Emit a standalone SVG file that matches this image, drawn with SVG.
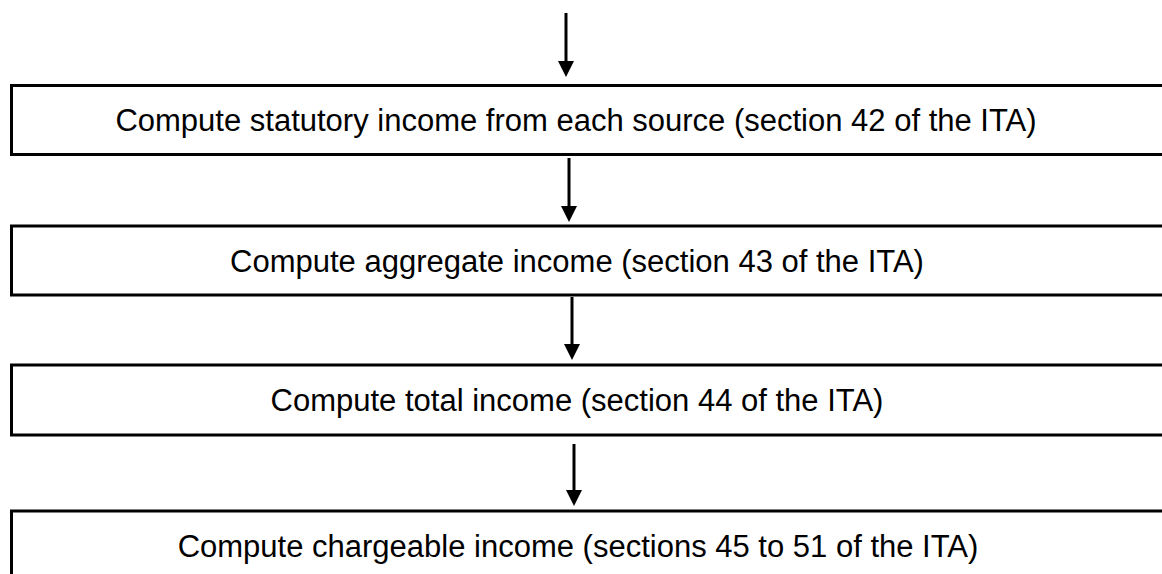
<svg xmlns="http://www.w3.org/2000/svg" width="1162" height="574" viewBox="0 0 1162 574">
<defs>
<style>
.box{fill:#fff;stroke:#000;stroke-width:3}
.lbl{font-family:"Liberation Sans",Arial,sans-serif;font-size:31px;fill:#000;text-anchor:middle}
.conn{stroke:#000;stroke-width:3;fill:none}
.head{fill:#000}
</style>
</defs>
<rect width="1162" height="574" fill="#fff"/>
<g id="connectors">
<line class="conn" x1="566" y1="13" x2="566" y2="62"/>
<polygon class="head" points="558,61 574,61 566,77"/>
<line class="conn" x1="569" y1="158" x2="569" y2="207"/>
<polygon class="head" points="561,206 577,206 569,222"/>
<line class="conn" x1="572" y1="297" x2="572" y2="345"/>
<polygon class="head" points="564,344 580,344 572,360"/>
<line class="conn" x1="574" y1="444" x2="574" y2="491"/>
<polygon class="head" points="566,490 582,490 574,506"/>
</g>
<g id="node1">
<rect class="box" x="11.5" y="85.5" width="1170" height="69"/>
<text class="lbl" x="576" y="131">Compute statutory income from each source (section 42 of the ITA)</text>
</g>
<g id="node2">
<rect class="box" x="11.5" y="226" width="1170" height="69"/>
<text class="lbl" x="577" y="272">Compute aggregate income (section 43 of the ITA)</text>
</g>
<g id="node3">
<rect class="box" x="11.5" y="365" width="1170" height="70"/>
<text class="lbl" x="577" y="411">Compute total income (section 44 of the ITA)</text>
</g>
<g id="node4">
<rect class="box" x="11.5" y="511" width="1170" height="80"/>
<text class="lbl" x="578" y="557">Compute chargeable income (sections 45 to 51 of the ITA)</text>
</g>
</svg>
